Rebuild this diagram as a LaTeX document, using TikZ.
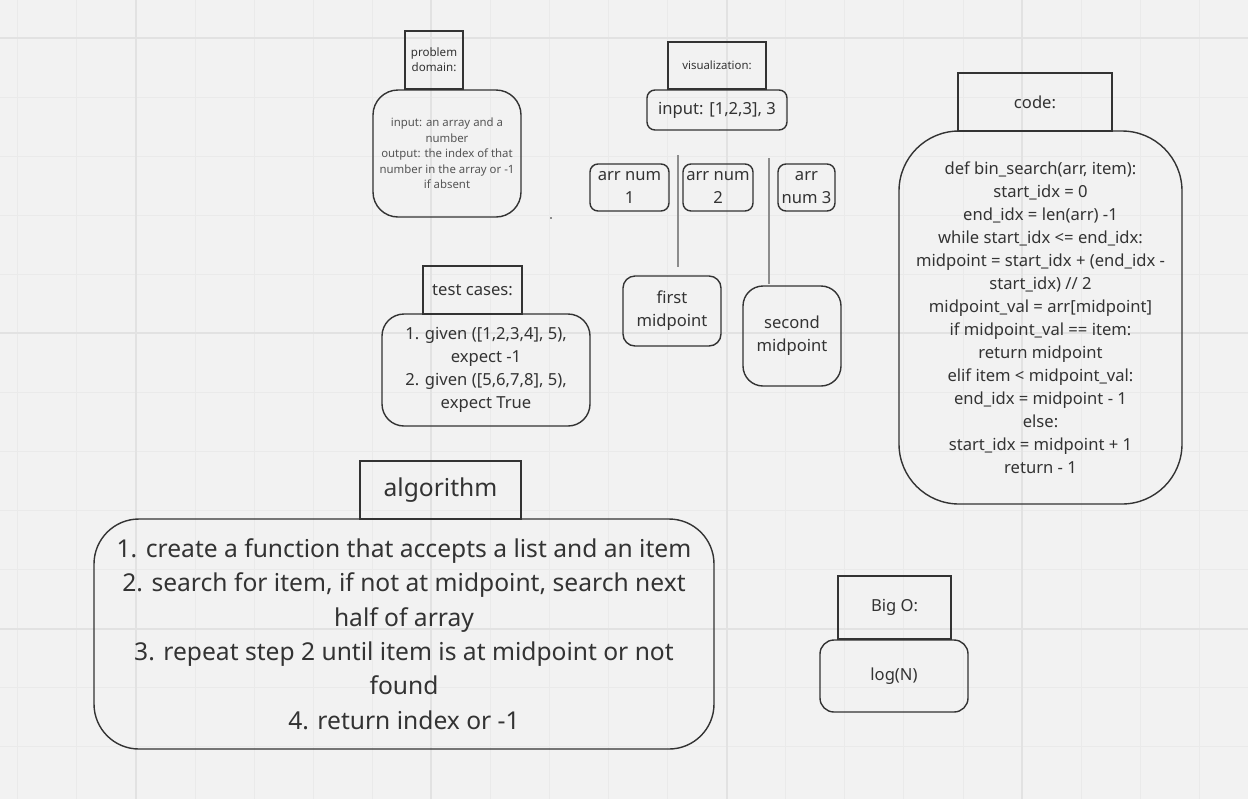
\documentclass[tikz,border=0pt]{standalone}
\usepackage{fontspec}
\setmainfont{Noto Sans}
\definecolor{bg}{HTML}{F2F2F2}
\definecolor{gminor}{HTML}{EAEAEA}
\definecolor{gmajor}{HTML}{E2E2E2}
\definecolor{ink}{HTML}{333333}
\definecolor{inklight}{HTML}{555555}
\definecolor{conn}{HTML}{8C8C8C}
\tikzset{
  x=0.5pt, y=-0.5pt,
  sqbox/.style={draw=ink, line width=0.7pt, text=ink, align=center, inner sep=0pt},
  rbox/.style={draw=ink, line width=0.7pt, text=ink, align=center, inner sep=0pt},
  mid/.style={font=\fontsize{8.3pt}{11.5pt}\selectfont},
  tiny/.style={font=\fontsize{5.7pt}{7.7pt}\selectfont},
  big/.style={font=\fontsize{12.3pt}{17.15pt}\selectfont},
  link/.style={draw=conn, line width=0.6pt}
}
\begin{document}
\begin{tikzpicture}
\useasboundingbox (0,0) rectangle (1248,799);
\fill[bg] (0,0) rectangle (1248,799);
% grid
\foreach \k in {0,...,21} {
  \pgfmathsetmacro{\xx}{17.9+59.07*\k}
  \draw[gminor, line width=0.5pt] (\xx,0) -- (\xx,799);
}
\foreach \k in {0,...,12} {
  \pgfmathsetmacro{\yy}{38+59.07*\k}
  \draw[gminor, line width=0.5pt] (0,\yy) -- (1248,\yy);
}
\foreach \k in {2,7,12,17} {
  \pgfmathsetmacro{\xx}{17.9+59.07*\k}
  \draw[gmajor, line width=0.9pt] (\xx,0) -- (\xx,799);
}
\foreach \k in {0,5,10} {
  \pgfmathsetmacro{\yy}{38+59.07*\k}
  \draw[gmajor, line width=0.9pt] (0,\yy) -- (1248,\yy);
}
% stray dot
\fill[conn] (550,217) rectangle (552,219);

% problem domain
\node[sqbox, tiny, font=\fontsize{5.8pt}{7.5pt}\selectfont, minimum width=29pt, minimum height=29pt] (pdlabel) at (434,60) {problem\\domain:};
\node[rbox, tiny, text=inklight, rounded corners=12.5pt, minimum width=74pt, minimum height=63.5pt] (pdbox) at (447,153.5) {input: an array and a\\number\\output: the index of that\\number in the array or -1\\if absent};

% visualization
\node[sqbox, tiny, minimum width=49pt, minimum height=23.5pt] (vislabel) at (717,65.5) {visualization:};
\node[rbox, mid, rounded corners=4pt, minimum width=70pt, minimum height=20pt] (input) at (717,110) {input: [1,2,3], 3};
\node[rbox, mid, rounded corners=4pt, minimum width=39.5pt, minimum height=23.5pt] (arr1) at (629.5,187.5) {arr num\\1};
\node[rbox, mid, rounded corners=4pt, minimum width=35pt, minimum height=23.5pt] (arr2) at (718,187.5) {arr num\\2};
\node[rbox, mid, rounded corners=4pt, minimum width=28.5pt, minimum height=23.5pt] (arr3) at (806.5,187.5) {arr\\num 3};
\node[rbox, mid, rounded corners=6pt, minimum width=49pt, minimum height=35pt] (first) at (672,311) {first\\midpoint};
\node[rbox, mid, rounded corners=10pt, minimum width=49pt, minimum height=50pt] (second) at (792,336) {second\\midpoint};
\coordinate (l1top) at (678,155);
\coordinate (l1bot) at (678,267);
\coordinate (l2top) at (769,158);
\coordinate (l2bot) at (769,284);
\draw[link] (l1top) -- (l1bot);
\draw[link] (l2top) -- (l2bot);

% test cases
\node[sqbox, mid, minimum width=49.5pt, minimum height=24pt] (tclabel) at (472.5,290) {test cases:};
\node[rbox, mid, rounded corners=11pt, minimum width=104pt, minimum height=56pt] (tcbox) at (486,370) {1. given ([1,2,3,4], 5),\\expect -1\\2. given ([5,6,7,8], 5),\\expect True};

% code
\node[sqbox, mid, minimum width=77pt, minimum height=29pt] (codelabel) at (1035,102) {code:};
\node[rbox, mid, rounded corners=30pt, minimum width=141.5pt, minimum height=186.5pt] (codebox) at (1040.5,317.5) {def bin\_search(arr, item):\\start\_idx = 0\\end\_idx = len(arr) -1\\while start\_idx <= end\_idx:\\midpoint = start\_idx + (end\_idx -\\start\_idx) // 2\\midpoint\_val = arr[midpoint]\\if midpoint\_val == item:\\return midpoint\\elif item < midpoint\_val:\\end\_idx = midpoint - 1\\else:\\start\_idx = midpoint + 1\\return - 1};

% algorithm
\node[sqbox, big, minimum width=80.5pt, minimum height=29pt] (alglabel) at (440.5,490) {algorithm};
\node[rbox, big, rounded corners=22.5pt, minimum width=310pt, minimum height=115pt] (algbox) at (404,634) {1. create a function that accepts a list and an item\\2. search for item, if not at midpoint, search next\\half of array\\3. repeat step 2 until item is at midpoint or not\\found\\4. return index or -1};

% Big O
\node[sqbox, mid, minimum width=56.5pt, minimum height=31.5pt] (biglabel) at (894.5,607.5) {Big O:};
\node[rbox, mid, rounded corners=7pt, minimum width=74pt, minimum height=36pt] (logbox) at (894,676) {log(N)};
\end{tikzpicture}
\end{document}
